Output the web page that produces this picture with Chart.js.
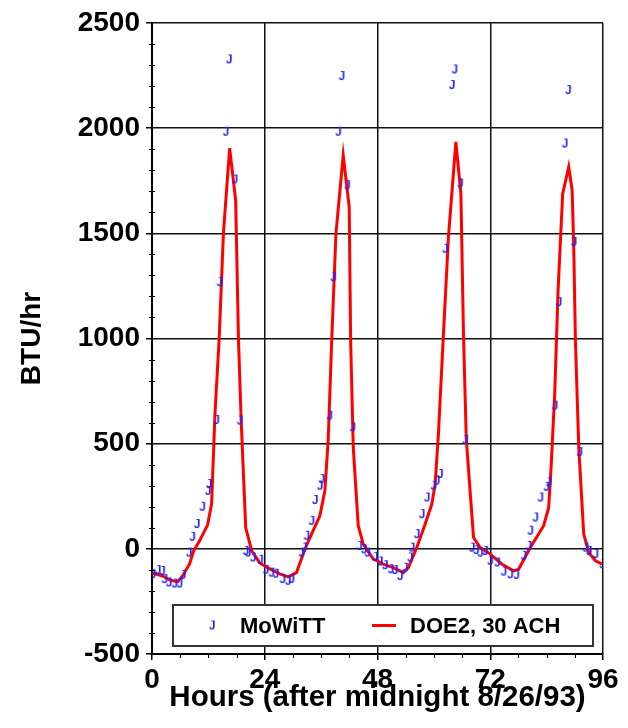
<!DOCTYPE html>
<html>
<head>
<meta charset="utf-8">
<script src="https://cdn.jsdelivr.net/npm/chart.js@4.4.0/dist/chart.umd.min.js"></script>
<style>
    html, body { margin: 0; padding: 0; background: #fff; }
    #wrap { width: 628px; height: 728px; }
</style>
</head>
<body>
<div id="wrap"><canvas id="chart" width="628" height="728"></canvas></div>
<script>
// MoWiTT measurements (hours after midnight, BTU/hr)
let mowittHours = [
    0.17, 1.24, 2.18, 2.67, 3.58, 4.8, 5.87, 6.57, 7.85, 8.58, 9.56, 10.71, 11.9, 12.12,
    13.7, 14.4, 15.68, 16.38, 17.6, 18.67, 19.95, 20.44, 21.5, 23.04,
    24.21, 25.43, 26.35, 27.78, 28.97, 29.7, 31.83, 32.38, 32.9, 33.96, 34.67, 35.73, 36.1,
    37.76, 38.57, 39.64, 40.36, 41.56, 42.67, 44.12, 45.12, 45.82, 47.47,
    48.53, 49.6, 50.82, 51.73, 52.8, 53.87, 54.93, 55.3, 56.36, 57.43, 58.5, 59.9, 60.63, 61.33,
    62.4, 63.83, 64.38, 65.6, 66.67, 68.1, 69.0, 69.87, 70.93,
    72.0, 73.5, 74.84, 76.27, 77.55, 79.1, 80.17, 80.53, 81.6, 82.67, 83.95, 84.44,
    85.72, 86.57, 87.85, 88.58, 89.77, 90.99, 92.27, 93.0, 94.4, 95.83
];
let mowittValues = [
    -121, -101, -105, -144, -160, -165, -165, -124, -18, 57, 118, 200, 276, 308,
    613, 1268, 1983, 2327, 1756, 610, -10, -18, -41, -52,
    -100, -113, -118, -144, -152, -143, -18, 6, 62, 133, 232, 300, 332,
    633, 1292, 1983, 2248, 1729, 578, 14, -2, -18, -38,
    -60, -78, -97, -101, -129, -90, -41, 6, 70, 165, 244, 300, 324, 356,
    1427, 2205, 2279, 1737, 518, 6, -6, -18, -10,
    -57, -65, -108, -121, -124, -33, 14, 86, 149, 244, 295, 316,
    681, 1173, 1927, 2181, 1459, 460, 6, -10, -25, -73
];

// DOE2, 30 ACH simulation
let doeHours = [
    0.1, 2.24, 3.73, 5.44, 6.5, 8.0, 8.85, 10.13, 11.84, 12.69, 13.4, 14.3, 15.2, 16.53,
    17.81, 18.4, 19.0, 19.95, 21.23, 22.93,
    25.07, 27.2, 28.97, 30.76, 32.53, 33.96, 35.73, 36.8, 37.5, 38.23, 39.15, 40.7,
    41.98, 42.28, 42.84, 43.9, 44.97, 47.1, 48.17,
    49.2, 51.37, 53.5, 54.57, 56.36, 58.13, 59.56, 60.27, 60.97, 62.04, 63.1, 64.68,
    65.75, 66.3, 66.9, 68.44, 69.87, 72.0,
    74.5, 76.97, 78.04, 80.53, 83.37, 84.44, 84.95, 85.72, 86.44, 87.42, 88.7,
    89.43, 89.77, 90.13, 90.84, 91.9, 92.97, 94.4, 95.83
];
let doeValues = [
    -115, -129, -148, -157, -129, -72, -10, 38, 114, 214, 640, 1000, 1500, 1905,
    1657, 1000, 600, 100, -10, -67,
    -95, -119, -133, -113, -2, 70, 157, 276, 514, 975, 1498, 1871,
    1625, 990, 482, 110, 22, -49, -60,
    -73, -89, -113, -89, 6, 117, 213, 308, 546, 1022, 1482, 1935,
    1689, 1022, 520, 54, 6, -25,
    -73, -105, -97, 6, 110, 197, 387, 737, 1229, 1689, 1816,
    1705, 1435, 990, 482, 70, -18, -57, -73
];

let xTickStep = 24;
let yTickStep = 500;
let labelMowitt = "MoWiTT";
let labelDoe = "DOE2, 30 ACH";

const FONT = "'Liberation Sans', Arial, Helvetica, sans-serif";
const BLUE = "#2222ff";

function toPoints(xs, ys) {
    let pts = [];
    for (let i = 0; i < xs.length; i++) {
        pts.push({ x: xs[i], y: ys[i] });
    }
    return pts;
}

// the "J" marker used by the original plot
function makeJ() {
    let c = document.createElement("canvas");
    c.width = 12;
    c.height = 12;
    let g = c.getContext("2d");
    g.fillStyle = BLUE;
    g.font = "12px " + FONT;
    g.textAlign = "center";
    g.textBaseline = "middle";
    g.fillText("J", 6, 6.5);
    g.fillText("J", 6.4, 6.5);
    return c;
}
const jMark = makeJ();

// minor ticks on both axes
const minorTicks = {
    id: "minorTicks",
    afterDraw(chart) {
        const { ctx, chartArea, scales } = chart;
        ctx.save();
        ctx.strokeStyle = "#000";
        ctx.lineWidth = 1;
        ctx.beginPath();
        for (let v = -400; v < 2500; v += 100) {
            if (v % 500 === 0) continue;
            let y = Math.round(scales.y.getPixelForValue(v)) + 0.5;
            ctx.moveTo(chartArea.left - 3, y);
            ctx.lineTo(chartArea.left + 3, y);
        }
        for (let h = 6; h < 96; h += 6) {
            if (h % 24 === 0) continue;
            let x = Math.round(scales.x.getPixelForValue(h)) + 0.5;
            ctx.moveTo(x, chartArea.bottom);
            ctx.lineTo(x, chartArea.bottom + 4);
        }
        ctx.stroke();
        ctx.restore();
    }
};

// boxed legend inside the plot area
const boxLegend = {
    id: "boxLegend",
    afterDatasetsDraw(chart) {
        const { ctx, chartArea } = chart;
        let left = chartArea.left + 21;
        let right = chartArea.right - 10;
        let top = chartArea.bottom - 49;
        let bottom = chartArea.bottom - 8;
        let mid = (top + bottom) / 2;
        ctx.save();
        ctx.fillStyle = "#fff";
        ctx.fillRect(left, top, right - left, bottom - top);
        ctx.strokeStyle = "#333";
        ctx.lineWidth = 2;
        ctx.strokeRect(left, top, right - left, bottom - top);

        ctx.drawImage(jMark, left + 33, mid - 6);

        ctx.strokeStyle = "#ff0000";
        ctx.lineWidth = 3;
        ctx.beginPath();
        ctx.moveTo(left + 199, mid);
        ctx.lineTo(left + 223, mid);
        ctx.stroke();

        ctx.fillStyle = "#000";
        ctx.font = "bold 22px " + FONT;
        ctx.textBaseline = "middle";
        ctx.fillText(labelMowitt, left + 67, mid + 1);
        ctx.fillText(labelDoe, left + 237, mid + 1);
        ctx.restore();
    }
};

let ctx = document.getElementById("chart").getContext("2d");
new Chart(ctx, {
    type: "scatter",
    data: {
        datasets: [
            {
                label: labelMowitt,
                data: toPoints(mowittHours, mowittValues),
                pointStyle: jMark,
                pointRadius: 6,
                showLine: false
            },
            {
                label: labelDoe,
                data: toPoints(doeHours, doeValues),
                showLine: true,
                borderColor: "#ff0000",
                borderWidth: 3,
                pointRadius: 0,
                tension: 0,
                fill: false
            }
        ]
    },
    options: {
        responsive: false,
        animation: false,
        devicePixelRatio: 1,
        layout: { padding: { top: 23, right: 25, left: 0, bottom: 0 } },
        plugins: {
            legend: { display: false },
            tooltip: { enabled: false }
        },
        scales: {
            x: {
                type: "linear",
                min: 0,
                max: 96,
                ticks: {
                    stepSize: xTickStep,
                    color: "#000",
                    font: { family: FONT, size: 28, weight: "bold" },
                    padding: 3,
                    maxRotation: 0,
                    callback: (v) => String(v)
                },
                grid: { color: "#111", lineWidth: 1.5, tickLength: 6, tickColor: "#000" },
                border: { color: "#000", width: 2 },
                title: {
                    display: true,
                    text: "Hours (after midnight 8/26/93)",
                    color: "#000",
                    font: { family: FONT, size: 29.5, weight: "bold" },
                    padding: { top: 0, bottom: 12 }
                },
                afterFit: (s) => { s.height = 74; }
            },
            y: {
                type: "linear",
                min: -500,
                max: 2500,
                ticks: {
                    stepSize: yTickStep,
                    color: "#000",
                    font: { family: FONT, size: 28, weight: "bold" },
                    padding: 6,
                    callback: (v) => String(v)
                },
                grid: { color: "#111", lineWidth: 1.5, tickLength: 6, tickColor: "#000" },
                border: { color: "#000", width: 2 },
                title: {
                    display: true,
                    text: "BTU/hr",
                    color: "#000",
                    font: { family: FONT, size: 28, weight: "bold" },
                    padding: { top: 15, bottom: 0 }
                },
                afterFit: (s) => { s.width = 152; }
            }
        }
    },
    plugins: [minorTicks, boxLegend]
});
</script>
</body>
</html>
